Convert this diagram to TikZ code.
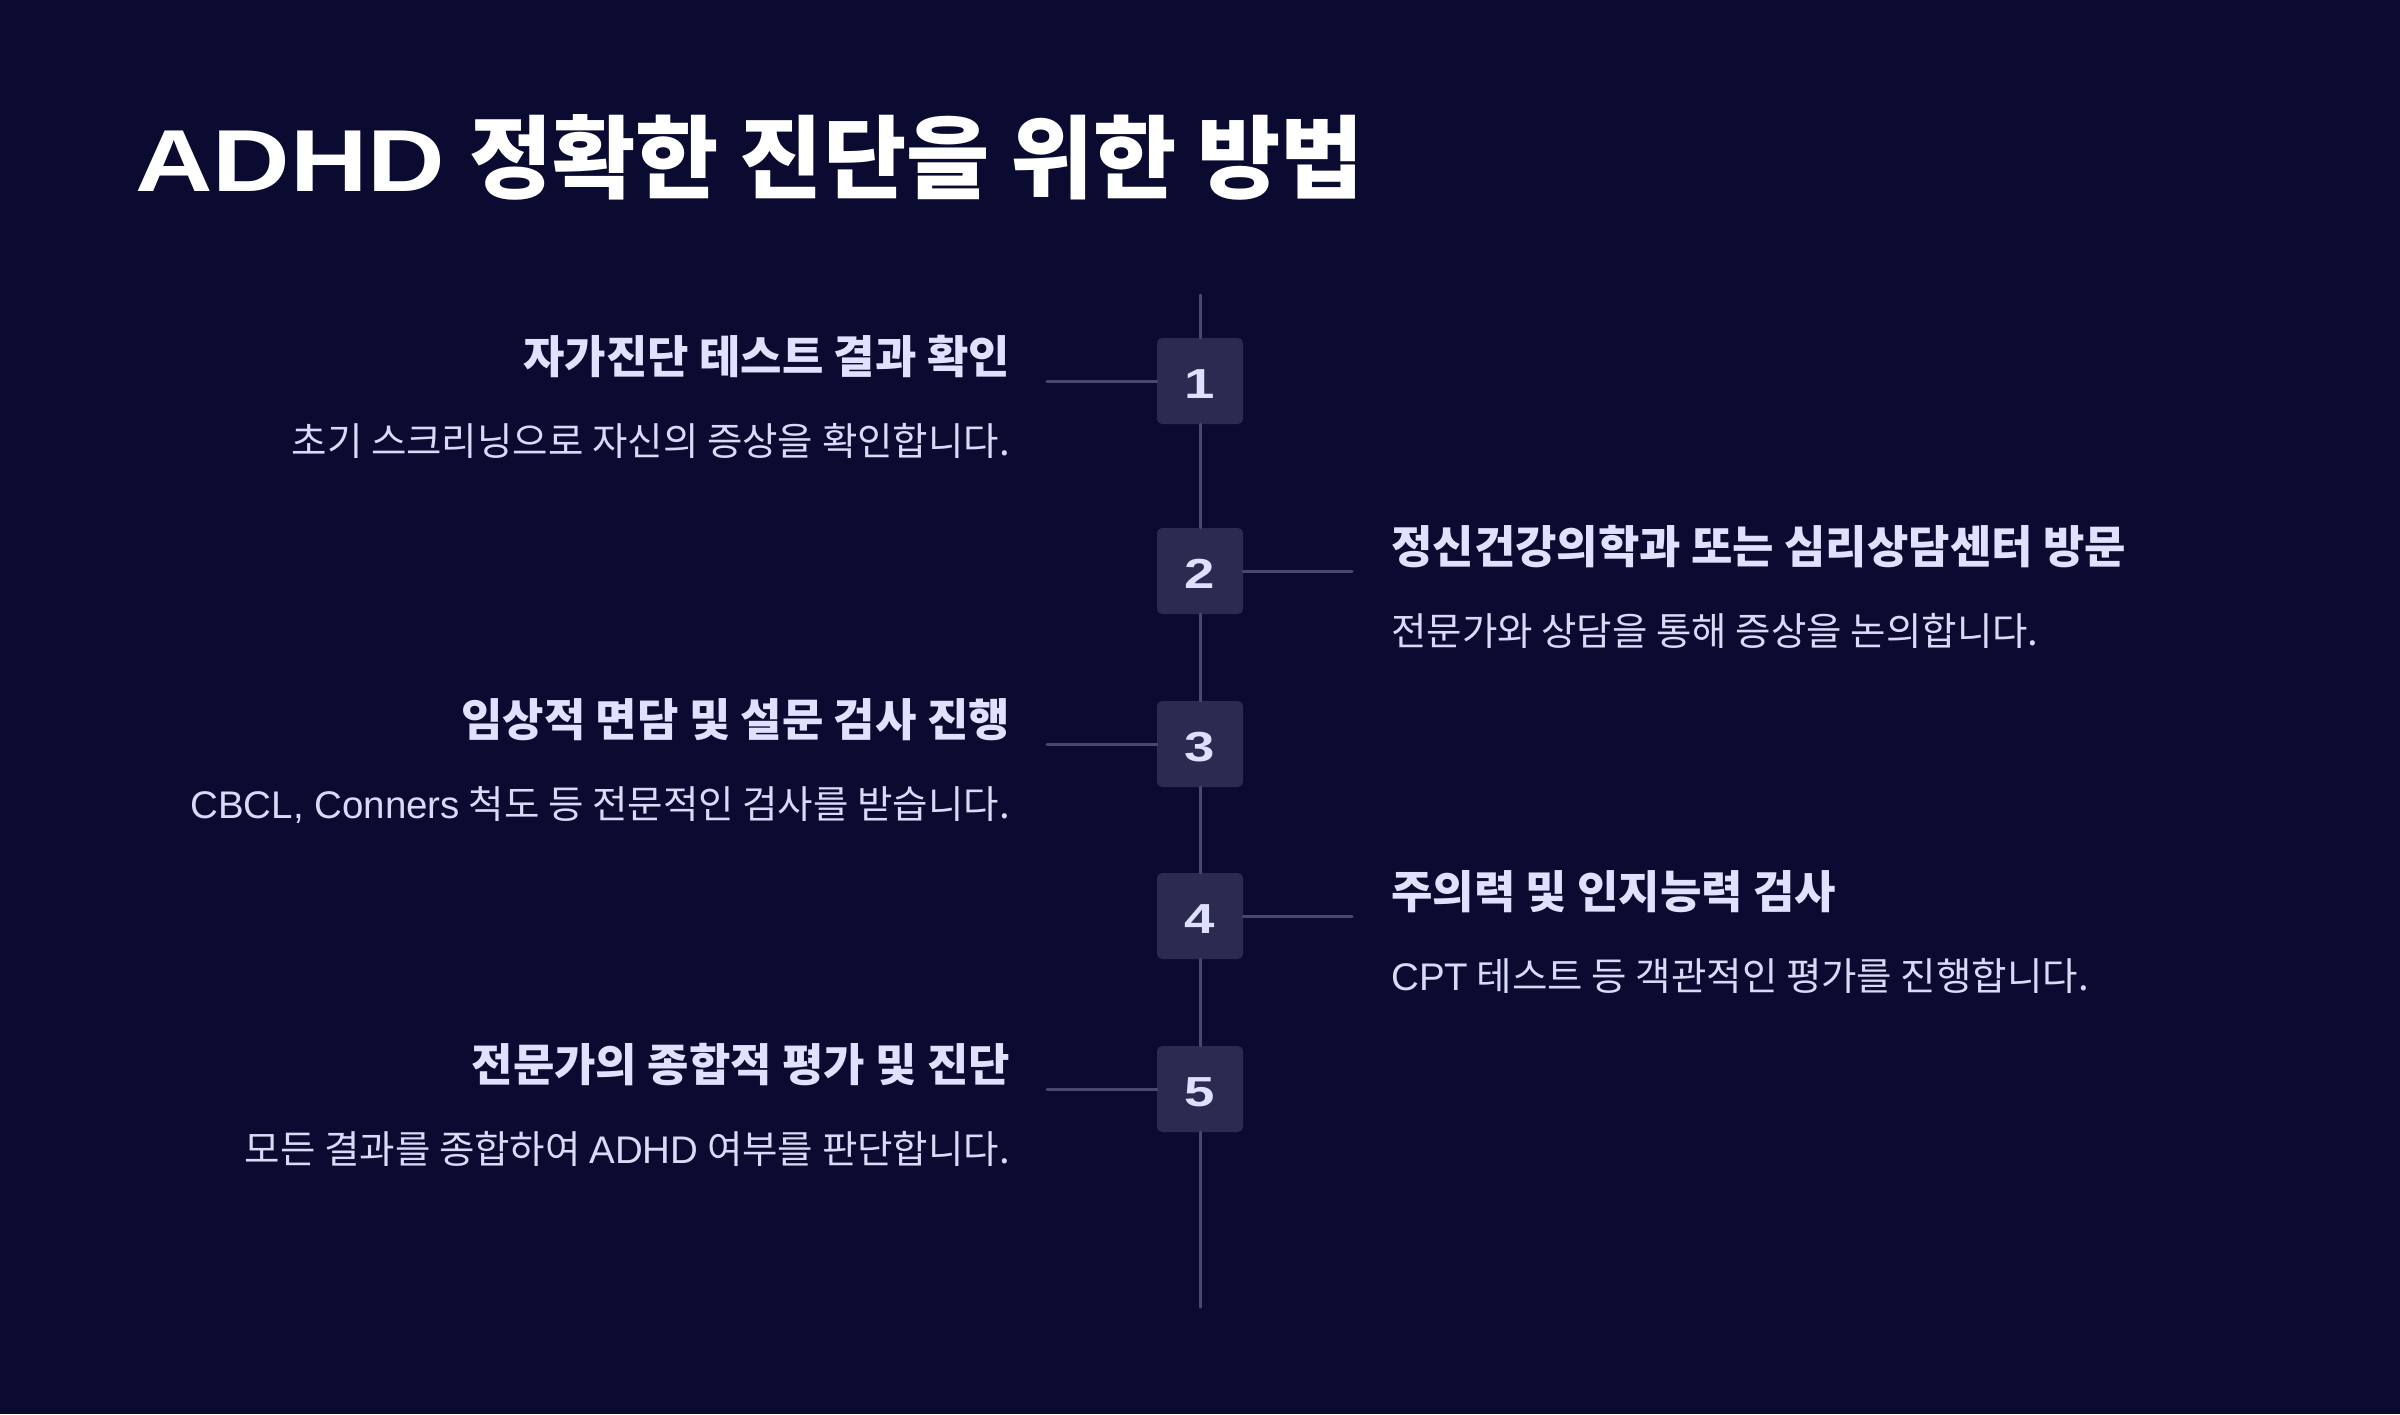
\documentclass[tikz,border=0pt]{standalone}
\usepackage{fontspec}
\newfontfamily\kr{Noto Sans CJK KR}
\newfontfamily\lat{Liberation Sans}
\newfontfamily\wide[FakeStretch=1.22]{Liberation Sans}
\newfontfamily\widenum[FakeStretch=1.3]{Liberation Sans}
\definecolor{bg}{HTML}{0B0A31}
\definecolor{boxc}{HTML}{2C2A50}
\definecolor{linec}{HTML}{4A4870}
\definecolor{numc}{HTML}{DDE0FF}
\definecolor{ttlc}{HTML}{E0E1FF}
\definecolor{dscc}{HTML}{D9DAF5}
\tikzset{
  numbox/.style={draw=none,fill=boxc,rounded corners=5pt,minimum width=86pt,minimum height=86pt,inner sep=0pt,text height=34pt,text depth=0pt,text=numc,font=\widenum\bfseries\fontsize{42}{42}\selectfont},
  ttl/.style={inner sep=0pt,text=ttlc,font=\kr\bfseries\fontsize{45}{54}\selectfont},
  dsc/.style={inner sep=0pt,text=dscc,font=\kr\fontsize{38.5}{46}\selectfont},
  conn/.style={draw=linec,line width=3pt,line cap=round},
}
\begin{document}
\begin{tikzpicture}[x=1pt,y=-1pt]
\fill[bg] (0,0) rectangle (2400,1414);
\useasboundingbox (0,0) rectangle (2400,1414);
\node[anchor=base west,inner sep=0pt,text=white] (title) at (135,191)
  {{\wide\bfseries\fontsize{88}{100}\selectfont ADHD}\hspace{24pt}{\kr\bfseries\fontsize{90.5}{100}\selectfont 정확한 진단을 위한 방법}};
% boxes
\node[numbox] (b1) at (1200,381) {1};
\node[numbox] (b2) at (1200,571) {2};
\node[numbox] (b3) at (1200,744) {3};
\node[numbox] (b4) at (1200,916) {4};
\node[numbox] (b5) at (1200,1089) {5};
\coordinate (top) at (1200,295);
\coordinate (bot) at (1200,1307);
\draw[conn] (top) -- (b1.north);
\draw[conn] (b1.south) -- (b2.north);
\draw[conn] (b2.south) -- (b3.north);
\draw[conn] (b3.south) -- (b4.north);
\draw[conn] (b4.south) -- (b5.north);
\draw[conn] (b5.south) -- (bot);
% side connectors
\coordinate (c1) at (1047,381);
\coordinate (c2) at (1352,571);
\coordinate (c3) at (1047,744);
\coordinate (c4) at (1352,916);
\coordinate (c5) at (1047,1089);
\draw[conn] (c1) -- (b1.west);
\draw[conn] (b2.east) -- (c2);
\draw[conn] (c3) -- (b3.west);
\draw[conn] (b4.east) -- (c4);
\draw[conn] (c5) -- (b5.west);
% texts
\node[ttl,anchor=base east] (t1) at (1010,373) {자가진단 테스트 결과 확인};
\node[dsc,anchor=base east] (d1) at (1010,455) {초기 스크리닝으로 자신의 증상을 확인합니다.};
\node[ttl,anchor=base west] (t2) at (1391,563) {정신건강의학과 또는 심리상담센터 방문};
\node[dsc,anchor=base west] (d2) at (1391,645) {전문가와 상담을 통해 증상을 논의합니다.};
\node[ttl,anchor=base east] (t3) at (1010,736) {임상적 면담 및 설문 검사 진행};
\node[dsc,anchor=base east] (d3) at (1010,818) {{\lat CBCL, Conners} 척도 등 전문적인 검사를 받습니다.};
\node[ttl,anchor=base west] (t4) at (1391,908) {주의력 및 인지능력 검사};
\node[dsc,anchor=base west] (d4) at (1391,990) {{\lat CPT} 테스트 등 객관적인 평가를 진행합니다.};
\node[ttl,anchor=base east] (t5) at (1010,1081) {전문가의 종합적 평가 및 진단};
\node[dsc,anchor=base east] (d5) at (1010,1163) {모든 결과를 종합하여 {\lat ADHD} 여부를 판단합니다.};
\end{tikzpicture}
\end{document}
